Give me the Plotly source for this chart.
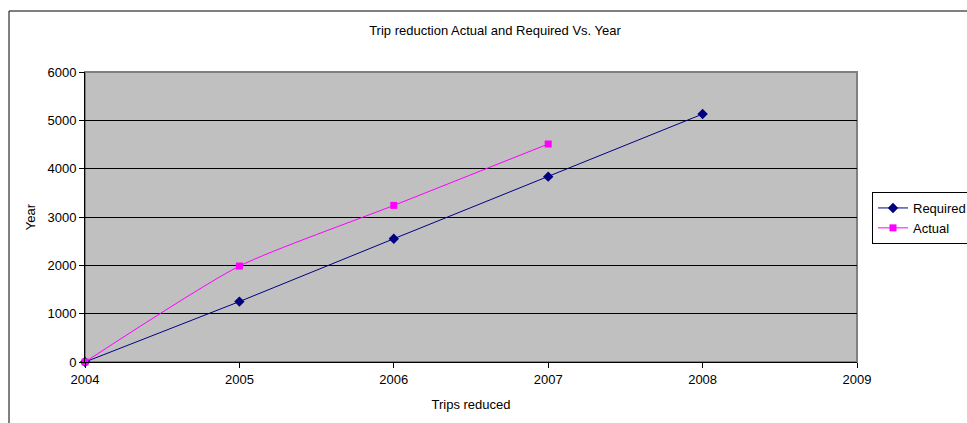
import plotly.graph_objects as go

years = [2004, 2005, 2006, 2007, 2008]
required = [0, 1250, 2550, 3835, 5130]
actual_years = [2004, 2005, 2006, 2007]
actual = [0, 1985, 3240, 4510]

W, H = 967, 423
L, R, T, B = 85, 110, 72, 61
pw, ph = W - L - R, H - T - B

def px(x):
    return (x - L) / pw

def py(y):
    return (H - B - y) / ph

FONT = "Liberation Sans, Arial, sans-serif"

fig = go.Figure()
fig.add_trace(go.Scatter(
    x=years, y=required, name="Required", mode="lines+markers",
    line=dict(color="#000080", width=1),
    marker=dict(symbol="diamond", size=8, color="#000080"),
    cliponaxis=False,
))
fig.add_trace(go.Scatter(
    x=actual_years, y=actual, name="Actual", mode="lines+markers",
    line=dict(color="#FF00FF", width=1, shape="spline", smoothing=0.6),
    marker=dict(symbol="square", size=7, color="#FF00FF"),
    cliponaxis=False,
))

fig.update_layout(
    width=W, height=H, autosize=False,
    margin=dict(l=L, r=R, t=T, b=B),
    paper_bgcolor="white",
    plot_bgcolor="#C0C0C0",
    font=dict(family=FONT, size=13, color="black"),
    title=dict(text="Trip reduction Actual and Required Vs. Year",
               x=px(495), xref="paper", y=1 - 30 / H, yanchor="middle",
               font=dict(size=13)),
    showlegend=True,
    legend=dict(xref="container", yref="container",
                x=872 / W, y=1 - 192 / H, xanchor="left", yanchor="top",
                bordercolor="black", borderwidth=1, bgcolor="white",
                font=dict(size=13), tracegroupgap=0, itemwidth=30),
    xaxis=dict(range=[2004, 2009], dtick=1, tick0=2004, showgrid=False,
               zeroline=False, showline=True, linecolor="black", linewidth=1,
               ticks="outside", ticklen=5, tickcolor="black",
               title=dict(text="Trips reduced", standoff=14, font=dict(size=13)),
               automargin=False),
    yaxis=dict(range=[0, 6000], dtick=1000, showgrid=True, gridcolor="black",
               gridwidth=1, zeroline=False, showline=True, linecolor="black",
               linewidth=1, ticks="outside", ticklen=5, tickcolor="black",
               title=dict(text="Year", standoff=8, font=dict(size=13)),
               automargin=False),
)

# plot area border (gray on top/right)
fig.add_shape(type="rect", xref="paper", yref="paper", x0=0, y0=0, x1=1, y1=1,
              line=dict(color="#808080", width=2), layer="below")
# outer chart border
fig.add_shape(type="rect", xref="paper", yref="paper",
              x0=px(9), y0=py(H + 5), x1=px(W + 5), y1=py(11),
              line=dict(color="black", width=1))

post = ("document.body.style.margin='0';"
        "document.body.style.padding='0';"
        "document.body.style.overflow='hidden';"
        "document.documentElement.style.overflow='hidden';")

fig.write_html("out.html", config={"responsive": False, "displayModeBar": False},
               post_script=post)
